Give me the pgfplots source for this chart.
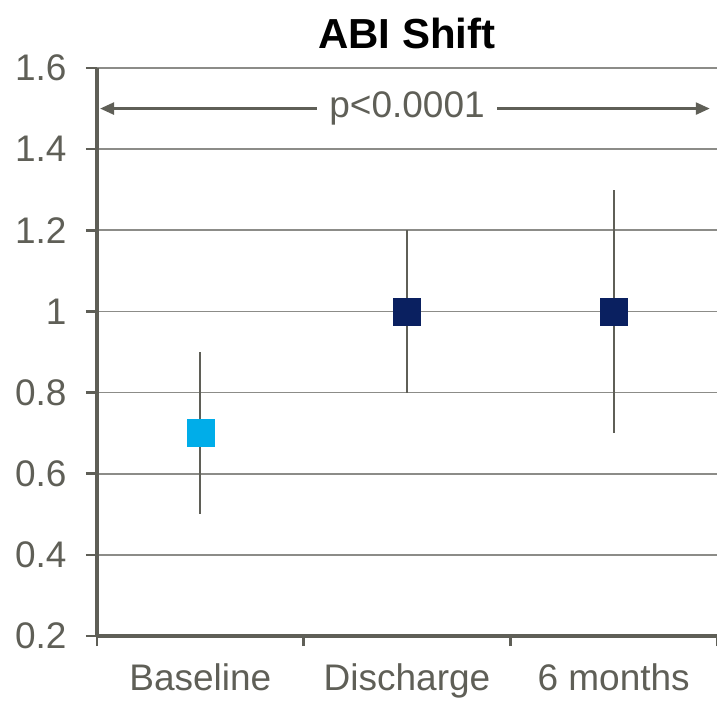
\documentclass[border=0pt]{standalone}
\usepackage{fontspec}
\setmainfont{Liberation Sans}
\usepackage{pgfplots}
\pgfplotsset{compat=1.18}
\usetikzlibrary{arrows.meta}

\definecolor{axisgray}{RGB}{95,95,87}
\definecolor{gridgray}{RGB}{140,140,136}
\definecolor{lightblue}{RGB}{0,173,233}
\definecolor{navy}{RGB}{10,32,96}

\begin{document}
\begin{tikzpicture}
\begin{axis}[
    scale only axis,
    width=620bp, height=568bp,
    xmin=0.5, xmax=3.5,
    ymin=0.2, ymax=1.6,
    ytick={0.2,0.4,...,1.6},
    yticklabels={0.2,0.4,0.6,0.8,1,1.2,1.4,1.6},
    xtick={1,2,3},
    xticklabels={Baseline,Discharge,6 months},
    minor xtick={0.5,1.5,2.5,3.5},
    major x tick style={draw=none},
    tick align=outside,
    major tick length=11bp,
    minor tick length=10bp,
    tick style={axisgray, line width=2.5bp},
    axis x line*=bottom,
    axis y line*=left,
    axis line style={axisgray, line width=3.5bp, -},
    ymajorgrids,
    major grid style={gridgray, line width=1.8bp},
    ticklabel style={font=\fontsize{37bp}{42bp}\selectfont, text=axisgray},
    yticklabel style={xshift=-16bp},
    xticklabel style={yshift=-13bp},
    /pgf/number format/assume math mode=true,
    title={ABI Shift},
    title style={font=\fontsize{42bp}{48bp}\selectfont\bfseries, yshift=10bp},
    clip=false,
]
\draw[axisgray, line width=2.5bp, {Triangle[length=14bp,width=12bp]}-{Triangle[length=14bp,width=12bp]}]
    (axis cs:0.515,1.5) -- (axis cs:3.465,1.5);
\node[fill=white, text=axisgray, inner xsep=12bp, font=\fontsize{37bp}{42bp}\selectfont]
    at (axis cs:2,1.5) {p<0.0001};

\addplot[only marks, mark=square*, mark size=13.5bp,
    mark options={draw=lightblue, fill=lightblue},
    error bars/.cd, y dir=both, y explicit,
    error bar style={axisgray, line width=2bp},
    error mark=none]
  coordinates {(1,0.7) +- (0,0.2)};
\addplot[only marks, mark=square*, mark size=13.5bp,
    mark options={draw=navy, fill=navy},
    error bars/.cd, y dir=both, y explicit,
    error bar style={axisgray, line width=2bp},
    error mark=none]
  coordinates {(2,1.0) +- (0,0.2) (3,1.0) +- (0,0.3)};
\end{axis}
\pgfresetboundingbox
\path[use as bounding box] (-97bp,-65bp) rectangle (620bp,636bp);
\end{tikzpicture}
\end{document}
